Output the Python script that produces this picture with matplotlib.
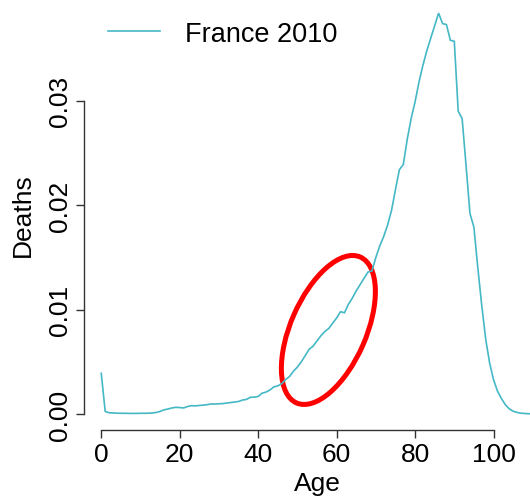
import matplotlib
matplotlib.use("Agg")
import matplotlib.pyplot as plt
import matplotlib.transforms as mtransforms
from matplotlib.patches import Ellipse
import numpy as np

plt.rcParams['font.family'] = ['Liberation Sans', 'DejaVu Sans']

# ---- data ----
ages = list(range(0, 111))
deaths = [
    0.0039, 0.00025, 0.00012, 0.00010, 0.00008, 0.00007, 0.00007, 0.00006, 0.00006, 0.00006,  # 0-9
    0.00007, 0.00007, 0.00008, 0.00010, 0.00015, 0.00025, 0.00040, 0.00048, 0.00058, 0.00064,  # 10-19
    0.00062, 0.00058, 0.00072, 0.00080, 0.00078, 0.00082, 0.00085, 0.00090, 0.00096, 0.00096,  # 20-29
    0.00098, 0.00100, 0.00105, 0.00110, 0.00115, 0.00120, 0.00134, 0.00140, 0.00160, 0.00162,  # 30-39
    0.00168, 0.00200, 0.00210, 0.00230, 0.00260, 0.00270, 0.00290, 0.00330, 0.00360, 0.00410,  # 40-49
    0.00450, 0.00500, 0.00560, 0.00620, 0.00650, 0.00700, 0.00750, 0.00790, 0.00820, 0.00870,  # 50-59
    0.00920, 0.00980, 0.00970, 0.01050, 0.01110, 0.01180, 0.01240, 0.01300, 0.01360, 0.01370,  # 60-69
    0.01500, 0.01610, 0.01700, 0.01810, 0.01950, 0.02150, 0.02340, 0.02390, 0.02630, 0.02830,  # 70-79
    0.02990, 0.03180, 0.03340, 0.03480, 0.03600, 0.03720, 0.03840, 0.03740, 0.03730, 0.03580,  # 80-89
    0.03570, 0.02900, 0.02830, 0.02380, 0.01920, 0.01790, 0.01400, 0.01040, 0.00720, 0.00490,  # 90-99
    0.00330, 0.00220, 0.00150, 0.00090, 0.00050, 0.00027, 0.00015, 0.00008, 0.00005, 0.00003,  # 100-109
    0.00002,                                                                                    # 110
]
series_label = "France 2010"
x_ticks = [0, 20, 40, 60, 80, 100]
y_ticks = [0.00, 0.01, 0.02, 0.03]
y_tick_labels = ["0.00", "0.01", "0.02", "0.03"]

line_color = "#45B8C6"
axis_color = "#333333"

fig = plt.figure(figsize=(5.30, 5.02), dpi=100)
ax = fig.add_axes([84 / 530, 71 / 502, 466 / 530, 431 / 502])

ax.plot(ages, deaths, color=line_color, lw=1.2, label=series_label, solid_joinstyle='miter')

ax.set_xlim(-4.4, 114.4)
ax.set_ylim(-0.00153, 0.03975)

for s in ["top", "right"]:
    ax.spines[s].set_visible(False)
ax.spines["left"].set_bounds(0, 0.03)
ax.spines["bottom"].set_bounds(0, 100)
for s in ["left", "bottom"]:
    ax.spines[s].set_color(axis_color)
    ax.spines[s].set_linewidth(1.0)

ax.set_xticks(x_ticks)
ax.set_xticklabels([str(t) for t in x_ticks])
ax.set_yticks(y_ticks)
ax.set_yticklabels(y_tick_labels, rotation=90, va="center")
ax.tick_params(axis="both", direction="out", length=6, width=1.0, color=axis_color,
               labelsize=19, labelcolor="black")
ax.tick_params(axis="y", pad=3.0)
ax.tick_params(axis="x", pad=3)

ax.set_xlabel("Age", fontsize=19)
ax.set_ylabel("Deaths", fontsize=19)
ax.xaxis.set_label_coords(0.5, -0.095)
ax.yaxis.set_label_coords(-0.105, 0.5)

leg = ax.legend(loc="upper left", bbox_to_anchor=(0.052, 0.950), frameon=False,
                fontsize=19.5, handlelength=1.9, handletextpad=0.95,
                borderpad=0, borderaxespad=0)

# highlight ellipse (drawn in inches around a data-anchored centre)
trans = fig.dpi_scale_trans + mtransforms.ScaledTranslation(57.9, 0.00805, ax.transData)
ell = Ellipse((0, 0), width=1.592, height=0.754, angle=66.4, transform=trans,
              fill=False, edgecolor="#FF0000", lw=3.6)
ax.add_patch(ell)

fig.savefig("out.png", dpi=100)
